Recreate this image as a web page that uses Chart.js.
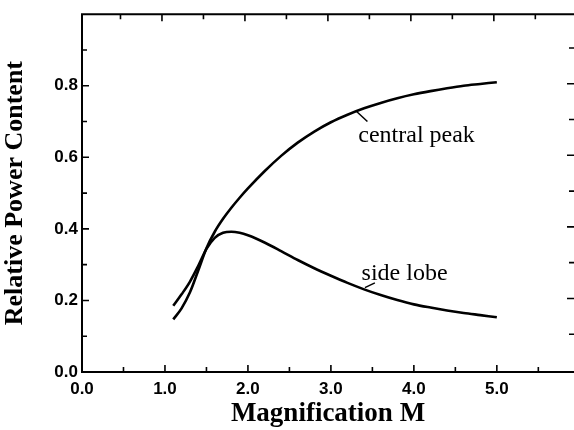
<!DOCTYPE html>
<html>
<head>
<meta charset="utf-8">
<script src="https://cdn.jsdelivr.net/npm/chart.js@4"></script>
<style>
  body { margin: 0; background: #fff; }
  #wrap { width: 574px; height: 430px; }
</style>
</head>
<body>
<div id="wrap"><canvas id="powerChart" width="574" height="430"></canvas></div>
<script>
// magnification M vs relative power
const magnification = [1.1, 1.2, 1.3, 1.4, 1.5, 1.6, 1.7, 1.8, 1.9, 2.0, 2.2, 2.4, 2.6, 2.8, 3.0, 3.2, 3.4, 3.6, 3.8, 4.0, 4.2, 4.4, 4.6, 4.8, 5.0];
const centralPeak = [0.147, 0.178, 0.222, 0.283, 0.346, 0.392, 0.428, 0.459, 0.487, 0.513, 0.561, 0.604, 0.641, 0.672, 0.698, 0.719, 0.737, 0.752, 0.765, 0.776, 0.785, 0.793, 0.800, 0.805, 0.810];
const sideLobe = [0.185, 0.217, 0.252, 0.296, 0.344, 0.375, 0.389, 0.392, 0.389, 0.382, 0.362, 0.338, 0.313, 0.290, 0.269, 0.249, 0.231, 0.215, 0.201, 0.189, 0.180, 0.172, 0.165, 0.159, 0.153];

const xTicks = [0, 1, 2, 3, 4, 5];
const yTicks = [0, 0.2, 0.4, 0.6, 0.8];

// curve labels: text, anchor (M, value), leader from/to
const curveLabels = [
  { text: 'central peak', at: [3.33, 0.643], leader: [[3.31, 0.728], [3.44, 0.700]] },
  { text: 'side lobe', at: [3.37, 0.257], leader: [[3.41, 0.236], [3.53, 0.249]] }
];

const X_MAX = 5.93;
const Y_MAX = 1.0;

function toSeries(ys) {
  return magnification.map((m, i) => ({ x: m, y: ys[i] }));
}

// frame, inward ticks and curve labels
const framePlugin = {
  id: 'frame',
  afterDraw(chart) {
    const { ctx, chartArea: a, scales: { x, y } } = chart;
    ctx.save();
    ctx.strokeStyle = '#000';
    ctx.lineWidth = 2;
    ctx.beginPath();
    ctx.moveTo(a.right + 2, a.top);
    ctx.lineTo(a.left, a.top);
    ctx.lineTo(a.left, a.bottom);
    ctx.lineTo(a.right + 2, a.bottom);
    ctx.stroke();

    ctx.lineWidth = 1.6;
    ctx.beginPath();
    for (let v = 0.5; v < X_MAX; v += 0.5) {
      const px = x.getPixelForValue(v);
      const len = Number.isInteger(v) ? 7 : 5;
      ctx.moveTo(px, a.bottom);
      ctx.lineTo(px, a.bottom - len);
      ctx.moveTo(px - 3, a.top);
      ctx.lineTo(px - 3, a.top + len);
    }
    for (let k = 1; k < 10; k++) {
      const py = y.getPixelForValue(k / 10);
      const len = k % 2 === 0 ? 7 : 5;
      ctx.moveTo(a.left, py);
      ctx.lineTo(a.left + len, py);
      ctx.moveTo(a.right, py - 2);
      ctx.lineTo(a.right - len, py - 2);
    }
    ctx.stroke();

    ctx.lineWidth = 1.5;
    ctx.fillStyle = '#000';
    ctx.font = '24px "Liberation Serif", "Times New Roman", serif';
    ctx.textBaseline = 'alphabetic';
    curveLabels.forEach(l => {
      ctx.beginPath();
      ctx.moveTo(x.getPixelForValue(l.leader[0][0]), y.getPixelForValue(l.leader[0][1]));
      ctx.lineTo(x.getPixelForValue(l.leader[1][0]), y.getPixelForValue(l.leader[1][1]));
      ctx.stroke();
      ctx.fillText(l.text, x.getPixelForValue(l.at[0]), y.getPixelForValue(l.at[1]));
    });
    ctx.restore();
  }
};

const tickFont = { family: '"Liberation Sans", Arial, sans-serif', size: 17, weight: 'bold' };

new Chart(document.getElementById('powerChart'), {
  type: 'scatter',
  data: {
    datasets: [
      {
        label: 'central peak',
        data: toSeries(centralPeak),
        showLine: true,
        borderColor: '#000',
        borderWidth: 2.6,
        pointRadius: 0,
        cubicInterpolationMode: 'monotone'
      },
      {
        label: 'side lobe',
        data: toSeries(sideLobe),
        showLine: true,
        borderColor: '#000',
        borderWidth: 2.6,
        pointRadius: 0,
        cubicInterpolationMode: 'monotone'
      }
    ]
  },
  options: {
    responsive: false,
    animation: false,
    layout: { padding: { top: 12, right: 0, left: 0, bottom: 0 } },
    plugins: {
      legend: { display: false },
      tooltip: { enabled: false }
    },
    scales: {
      x: {
        type: 'linear',
        min: 0,
        max: X_MAX,
        afterFit(scale) { scale.height = 58; },
        afterBuildTicks(scale) { scale.ticks = xTicks.map(v => ({ value: v })); },
        grid: { display: false, drawTicks: false },
        border: { display: false },
        ticks: {
          color: '#000',
          font: tickFont,
          padding: 7,
          maxRotation: 0,
          callback: v => v.toFixed(1)
        },
        title: {
          display: true,
          text: 'Magnification M',
          color: '#000',
          font: { family: '"Liberation Serif", "Times New Roman", serif', size: 27, weight: 'bold' },
          padding: { top: 0, bottom: 0 }
        }
      },
      y: {
        min: 0,
        max: Y_MAX,
        afterFit(scale) { scale.width = 82; },
        afterBuildTicks(scale) { scale.ticks = yTicks.map(v => ({ value: v })); },
        grid: { display: false, drawTicks: false },
        border: { display: false },
        ticks: {
          color: '#000',
          font: tickFont,
          padding: 4,
          callback: v => v.toFixed(1)
        },
        title: {
          display: true,
          text: 'Relative Power Content',
          color: '#000',
          font: { family: '"Liberation Serif", "Times New Roman", serif', size: 26, weight: 'bold' },
          padding: { top: 0, bottom: 4 }
        }
      }
    }
  },
  plugins: [framePlugin]
});
</script>
</body>
</html>
